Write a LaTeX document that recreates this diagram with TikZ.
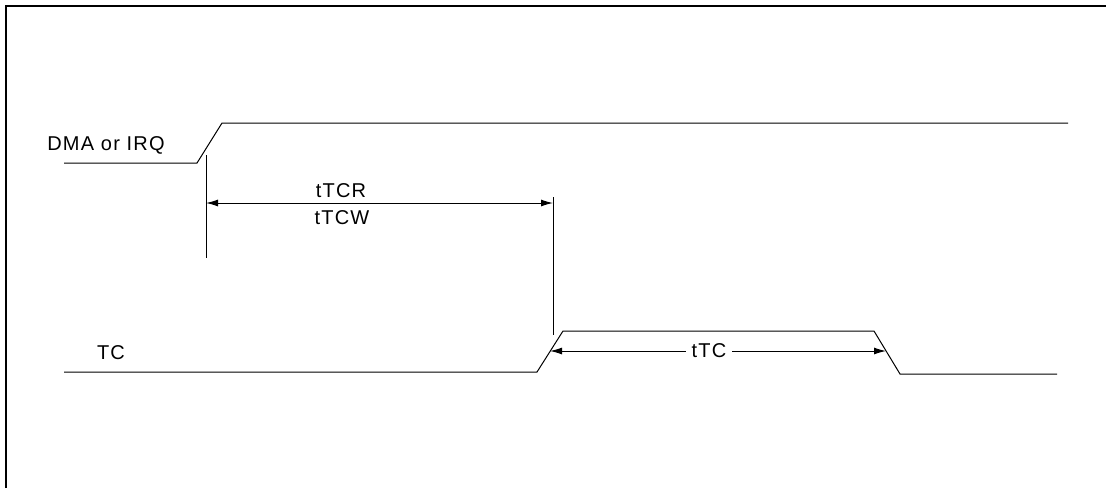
\documentclass[tikz,border=0pt]{standalone}
\usepackage{fontspec}
\setmainfont{Liberation Sans}[LetterSpace=6]
\usetikzlibrary{arrows.meta}
\begin{document}
\begin{tikzpicture}[x=1pt,y=-1pt,
  sig/.style={line width=1pt, line join=miter},
  frameline/.style={line width=1.4pt},
  markerline/.style={line width=1pt},
  dimarrow/.style={line width=1pt, {Latex[length=12pt,width=7pt]}-{Latex[length=12pt,width=7pt]}},
  lbl/.style={font=\fontsize{20}{24}\selectfont, inner sep=0pt}]
\useasboundingbox (0,0) rectangle (1106,488);
% frame
\coordinate (f1) at (6,488);
\coordinate (f2) at (6,6);
\coordinate (f3) at (1106,6);
\draw[frameline] (f1) -- (f2) -- (f3);
% DMA or IRQ signal
\coordinate (d0) at (64,163);
\coordinate (d1) at (197,163);
\coordinate (d2) at (222,123);
\coordinate (d3) at (1068,123);
\draw[sig] (d0) -- (d1) -- (d2) -- (d3);
\node[lbl] (dmalbl) at (106,145) {DMA or IRQ};
% markers
\coordinate (m1t) at (206,155);
\coordinate (m1b) at (206,258);
\coordinate (m2t) at (553,197);
\coordinate (m2b) at (553,335);
\draw[markerline] (m1t) -- (m1b);
\draw[markerline] (m2t) -- (m2b);
\coordinate (a1) at (206,203);
\coordinate (a2) at (553,203);
\draw[dimarrow] (a1) -- (a2);
\node[lbl] (ttcr) at (341,191) {tTCR};
\node[lbl] (ttcw) at (342,218) {tTCW};
% TC signal
\coordinate (t0) at (64,372);
\coordinate (t1) at (537,372);
\coordinate (t2) at (563,331);
\coordinate (t3) at (874,331);
\coordinate (t4) at (900,374);
\coordinate (t5) at (1057,374);
\draw[sig] (t0) -- (t1) -- (t2) -- (t3) -- (t4) -- (t5);
\node[lbl] (tclbl) at (111,353) {TC};
% tTC dimension
\coordinate (b1) at (550,351);
\coordinate (b2) at (886,351);
\draw[dimarrow] (b1) -- (b2);
\node[lbl, fill=white, inner xsep=6pt, inner ysep=2pt] (ttc) at (709,351) {tTC};
\end{tikzpicture}
\end{document}
